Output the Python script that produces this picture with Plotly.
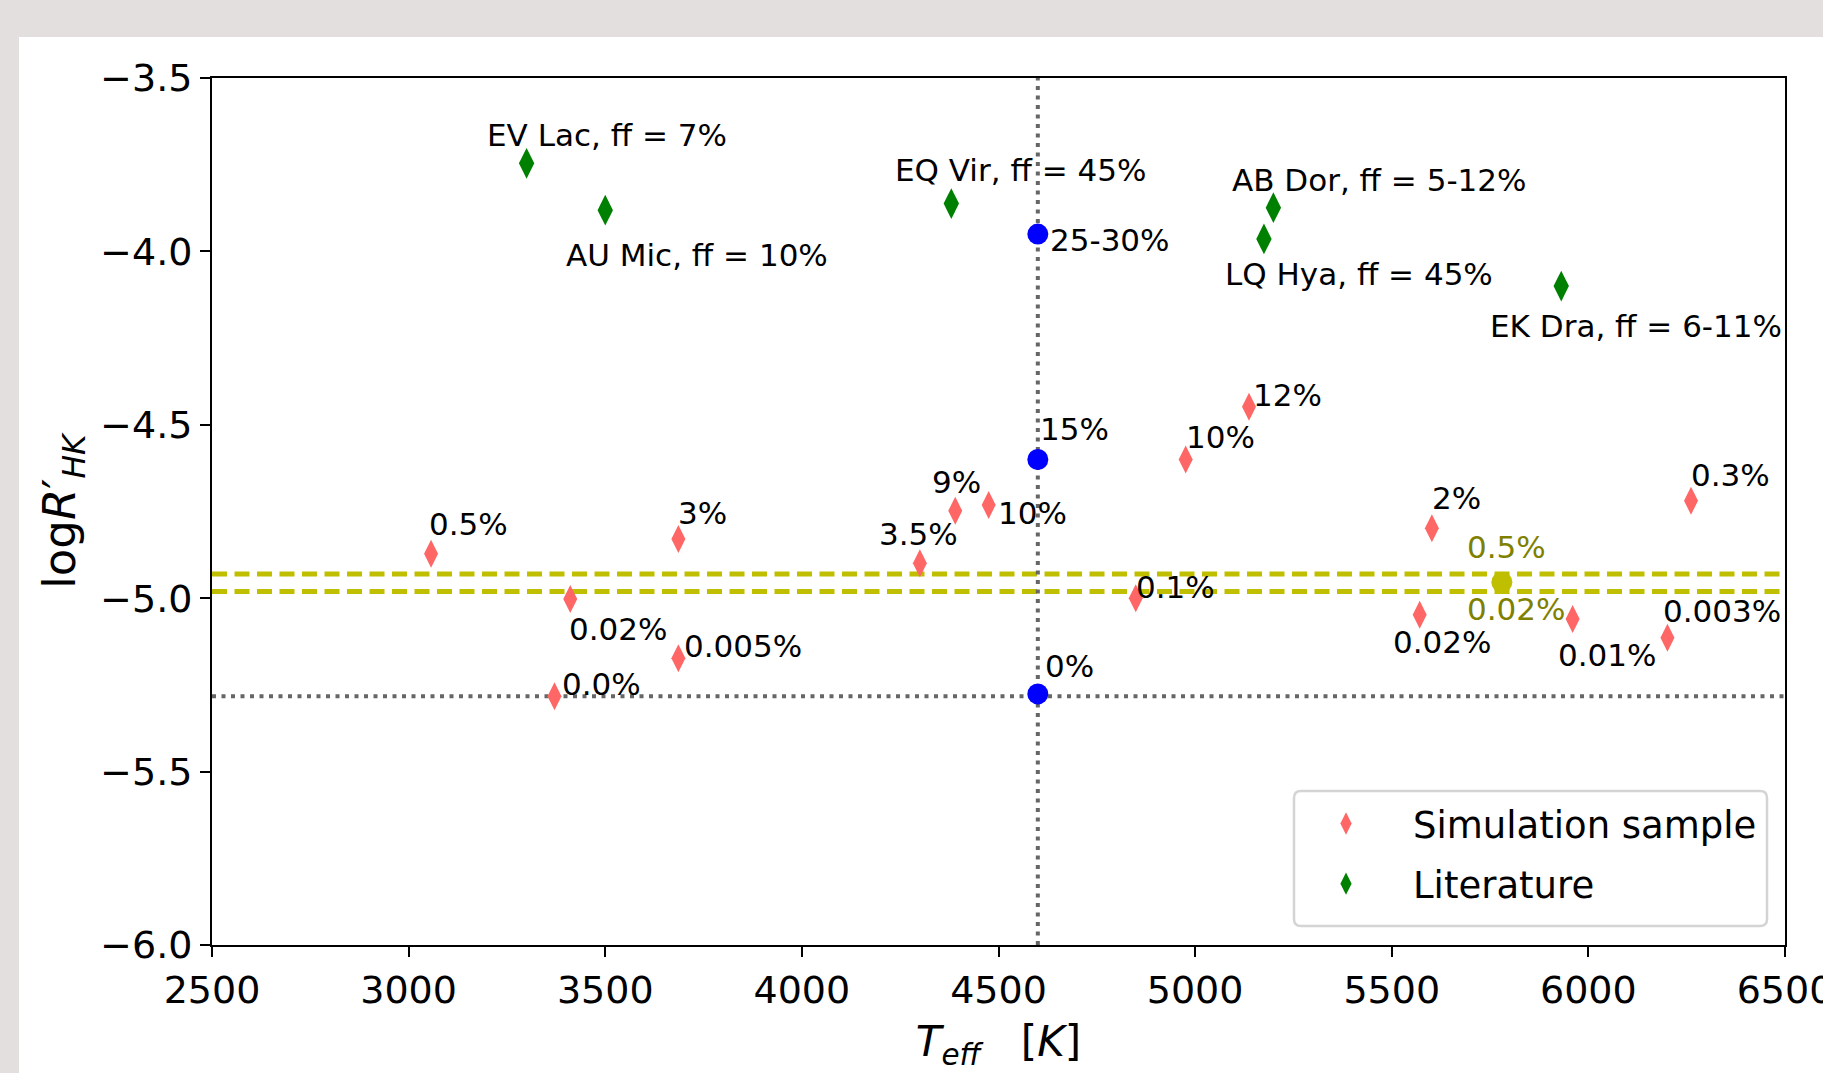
import plotly.graph_objects as go

# ---------------- data ----------------
sim_teff = [3057, 3411, 3371, 3686, 3686, 4300, 4390, 4475, 4849, 4976, 5137, 5602, 5571, 5960, 6201, 6261]
sim_logr = [-4.872, -5.002, -5.283, -4.829, -5.173, -4.899, -4.748, -4.731, -5.000, -4.600, -4.448, -4.798, -5.048, -5.060, -5.114, -4.719]
sim_ff = ["0.5%", "0.02%", "0.0%", "3%", "0.005%", "3.5%", "9%", "10%", "0.1%", "10%", "12%", "2%", "0.02%", "0.01%", "0.003%", "0.3%"]

lit_teff = [3300, 3500, 4380, 5199, 5175, 5931]
lit_logr = [-3.746, -3.881, -3.862, -3.874, -3.964, -4.100]
lit_name = ["EV Lac, ff = 7%", "AU Mic, ff = 10%", "EQ Vir, ff = 45%", "AB Dor, ff = 5-12%",
            "LQ Hya, ff = 45%", "EK Dra, ff = 6-11%"]

ref_teff = [4600, 4600, 4600]
ref_logr = [-3.950, -4.600, -5.276]
ref_ff = ["25-30%", "15%", "0%"]

sun_teff = [5780]
sun_logr = [-4.954]
sun_lines = [-4.930, -4.981]
sun_ff = ["0.5%", "0.02%"]

basal_logr = -5.283
ref_line_teff = 4600

x_ticks = [2500, 3000, 3500, 4000, 4500, 5000, 5500, 6000, 6500]
y_ticks = [-6.0, -5.5, -5.0, -4.5, -4.0, -3.5]

# label offsets (px): (dx, yshift)
sim_off = [(-1, 30), (0, -30), (8, 12), (1, 26), (7, 12), (-40, 29), (-22, 29), (10, -8),
           (1, 11), (1, 22), (5, 12), (1, 30), (-26, -27), (-14, -36), (-3, 27), (1, 26)]
lit_off = [(-39, 28), (-38, -45), (-55, 34), (-40, 28), (-38, -35), (-70, -40)]
ref_off = [(13, -6), (3, 30), (8, 28)]
sun_off = [(-34, 35), (-34, -27)]
PAD = 3  # annotation box padding correction

# ---------------- layout geometry ----------------
W, H = 1823, 1073
ML, MR, MT, MB = 212, 38, 78, 128
PW, PH = W - ML - MR, H - MT - MB


def pxx(px):
    return (px - ML) / PW


def pxy(py):
    return (H - MB - py) / PH


FONT = "DejaVu Sans"
GREY_PAGE = "#e4dfdf"

fig = go.Figure()

# grey page strips (top and left) around the white panel
fig.add_shape(type="rect", xref="paper", yref="paper", x0=pxx(-20), x1=pxx(W + 20),
              y0=pxy(37), y1=pxy(-20), fillcolor=GREY_PAGE, line=dict(width=0), layer="below")
fig.add_shape(type="rect", xref="paper", yref="paper", x0=pxx(-20), x1=pxx(19),
              y0=pxy(H + 20), y1=pxy(-20), fillcolor=GREY_PAGE, line=dict(width=0), layer="below")

fig.add_trace(go.Scatter(
    x=sim_teff, y=sim_logr, mode="markers", name="Simulation sample",
    marker=dict(symbol="diamond-tall", size=20, color="#ff6666"),
    legendgroup="a"))
fig.add_trace(go.Scatter(
    x=lit_teff, y=lit_logr, mode="markers", name="Literature",
    marker=dict(symbol="diamond-tall", size=22, color="#008000"),
    legendgroup="b"))
fig.add_trace(go.Scatter(
    x=ref_teff, y=ref_logr, mode="markers", showlegend=False,
    marker=dict(symbol="circle", size=21, color="#0000ff")))
fig.add_trace(go.Scatter(
    x=sun_teff, y=sun_logr, mode="markers", showlegend=False,
    marker=dict(symbol="circle", size=21, color="#bfbf00")))

# reference lines
for yv in sun_lines:
    fig.add_shape(type="line", xref="x domain", yref="y", x0=0, x1=1, y0=yv, y1=yv,
                  line=dict(color="#bfbf00", width=5, dash="15px,7.5px"), layer="below")
fig.add_shape(type="line", xref="x domain", yref="y", x0=0, x1=1, y0=basal_logr, y1=basal_logr,
              line=dict(color="#666666", width=4, dash="4px,5.5px"), layer="below")
fig.add_shape(type="line", xref="x", yref="y domain", x0=ref_line_teff, x1=ref_line_teff, y0=0, y1=1,
              line=dict(color="#666666", width=4, dash="4px,5.5px"), layer="below")


# labels
def label(x, y, text, off, color="black", size=31):
    fig.add_annotation(x=x, y=y, text=text, showarrow=False, xanchor="left", yanchor="middle",
                       xshift=off[0] - PAD, yshift=off[1], font=dict(family=FONT, size=size, color=color))


for x, y, t, o in zip(sim_teff, sim_logr, sim_ff, sim_off):
    label(x, y, t, o)
for x, y, t, o in zip(lit_teff, lit_logr, lit_name, lit_off):
    label(x, y, t, o)
for x, y, t, o in zip(ref_teff, ref_logr, ref_ff, ref_off):
    label(x, y, t, o)
for t, o in zip(sun_ff, sun_off):
    label(sun_teff[0], sun_logr[0], t, o, color="#808000")

# legend frame (rounded)
x0, x1, y0, y1 = pxx(1294), pxx(1767), pxy(926), pxy(791)
rx, ry = 7 / PW, 7 / PH
path = (f"M{x0+rx},{y0} L{x1-rx},{y0} Q{x1},{y0} {x1},{y0+ry} L{x1},{y1-ry} Q{x1},{y1} {x1-rx},{y1} "
        f"L{x0+rx},{y1} Q{x0},{y1} {x0},{y1-ry} L{x0},{y0+ry} Q{x0},{y0} {x0+rx},{y0} Z")
fig.add_shape(type="path", xref="paper", yref="paper", path=path,
              fillcolor="rgba(255,255,255,0.8)", line=dict(color="#d4d4d4", width=2.5), layer="above")

fig.update_layout(
    width=W, height=H,
    margin=dict(l=ML, r=MR, t=MT, b=MB, autoexpand=False),
    paper_bgcolor="white", plot_bgcolor="white",
    font=dict(family=FONT, color="black"),
    showlegend=True,
    legend=dict(x=pxx(1279), y=pxy(793), xanchor="left", yanchor="top",
                bgcolor="rgba(0,0,0,0)", borderwidth=0, itemwidth=124,
                tracegroupgap=9, font=dict(family=FONT, size=37, color="black")),
    xaxis=dict(range=[2500, 6500], tickvals=x_ticks, ticktext=[str(v) for v in x_ticks],
               automargin=False,
               showgrid=False, zeroline=False, showline=True, mirror=True, linecolor="black",
               linewidth=2, ticks="outside", ticklen=10, tickwidth=2, tickcolor="black",
               tickfont=dict(family=FONT, size=38), ticklabeloverflow="allow",
               title=dict(text="<i>T</i><sub><i>eff</i></sub>   [<i>K</i>]",
                          font=dict(family=FONT, size=42), standoff=16)),
    yaxis=dict(range=[-6.0, -3.5], tickvals=y_ticks, tickformat=".1f",
               automargin=False,
               showgrid=False, zeroline=False, showline=True, mirror=True, linecolor="black",
               linewidth=2, ticks="outside", ticklen=10, tickwidth=2, tickcolor="black",
               tickfont=dict(family=FONT, size=38),
               title=dict(text="log<i>R</i>\u2032<sub><i>HK</i></sub>",
                          font=dict(family=FONT, size=45), standoff=10)),
)

fig.write_html("out.html")
